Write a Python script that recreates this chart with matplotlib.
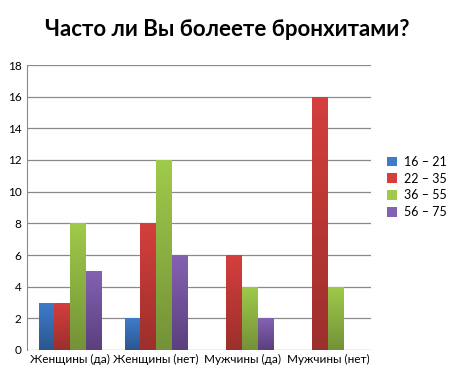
import numpy as np
import matplotlib
matplotlib.use("Agg")
import matplotlib.pyplot as plt
from matplotlib.colors import LinearSegmentedColormap

plt.rcParams['font.family'] = ['Lato', 'DejaVu Sans']

categories = ['Женщины (да)', 'Женщины (нет)', 'Мужчины (да)', 'Мужчины (нет)']
series = ['16 – 21', '22 – 35', '36 – 55', '56 – 75']
v16_21 = [3, 2, 0, 0]
v22_35 = [3, 8, 6, 16]
v36_55 = [8, 12, 4, 4]
v56_75 = [5, 6, 2, 0]
values = [v16_21, v22_35, v36_55, v56_75]

# (top colour, bottom colour) for the gradient fill
grads = [('#3f7bcb', '#2b5791'),
         ('#d43f3c', '#9c2f2c'),
         ('#9fca4a', '#749238'),
         ('#8462b2', '#5b3f7e')]

fig = plt.figure(figsize=(4.54, 3.75), dpi=100)
ax = fig.add_axes([27/454, 25/375, 344/454, 285/375])

x = np.arange(len(categories))
w = 0.183
for i, (name, vals) in enumerate(zip(series, values)):
    top, bot = grads[i]
    bars = ax.bar(x + (i - 1.5) * w, vals, w, color=top, label=name, zorder=2)
    cmap = LinearSegmentedColormap.from_list('g%d' % i, [bot, top])
    for b in bars:
        h = b.get_height()
        if h <= 0:
            continue
        grad = np.linspace(0, 1, 64).reshape(-1, 1)
        im = ax.imshow(grad, cmap=cmap, origin='lower', aspect='auto',
                       extent=[b.get_x(), b.get_x() + b.get_width(), 0, h], zorder=3)
        im.set_clip_path(b)

ax.set_xlim(-0.5, 3.5)
ax.set_ylim(0, 18)
ax.set_yticks(range(0, 19, 2))
ax.set_xticks(x)
ax.set_xticklabels(categories, fontsize=8.5)
ax.tick_params(axis='y', labelsize=8.5, length=0, pad=4)
ax.tick_params(axis='x', length=0, pad=3)
ax.grid(axis='y', color='#8a8a8a', linewidth=0.9, zorder=1)
ax.set_axisbelow(True)
for s in ['top', 'right', 'bottom']:
    ax.spines[s].set_visible(False)
ax.spines['left'].set_color('#8a8a8a')

fig.text(0.5, 1 - 30/375, 'Часто ли Вы болеете бронхитами?', ha='center', va='center',
         fontsize=16, fontweight='bold')

fig.legend(loc='center left', bbox_to_anchor=(376/454, 1 - 187/375), frameon=False,
           fontsize=9, handlelength=0.8, handleheight=0.8, handletextpad=0.5,
           labelspacing=0.38)

fig.savefig('out.png', dpi=100)
